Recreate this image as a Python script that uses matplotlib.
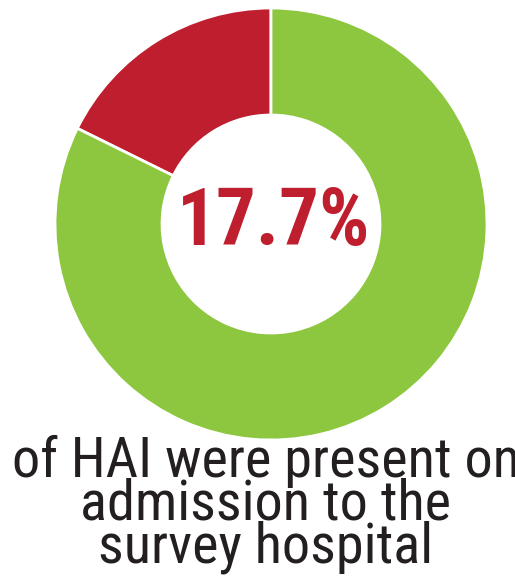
import matplotlib
matplotlib.use('Agg')
import matplotlib.pyplot as plt

# Share of HAI present on admission
labels = ['Present on admission', 'Other HAI']
shares = [17.7, 82.3]
colors = ['#BE1E2D', '#8DC63F']
caption = ['of HAI were present on', 'admission to the', 'survey hospital']

W, H = 515, 577
fig = plt.figure(figsize=(W / 100, H / 100), dpi=100)
ax = fig.add_axes([0, 0, 1, 1])

cx, cy, r_out, r_in = 271, H - 224, 216, 109
ax.pie(shares, colors=colors, startangle=90, counterclock=True,
       center=(cx, cy), radius=r_out, frame=True,
       wedgeprops=dict(width=r_out - r_in, edgecolor='white', linewidth=2))
ax.set_xlim(0, W)
ax.set_ylim(0, H)
ax.set_aspect('equal')
ax.axis('off')

ax.text(cx + 3, cy + 1, f'{shares[0]}%', ha='center', va='center',
        fontsize=57, fontweight='bold', color=colors[0], family='Roboto Condensed')

baselines = [477, 520, 563]
for line, yb in zip(caption, baselines):
    ax.text(266, H - yb, line, ha='center', va='baseline',
            fontsize=40.5, color='#231F20', family='Roboto Condensed')

fig.savefig('out.png', dpi=100)
